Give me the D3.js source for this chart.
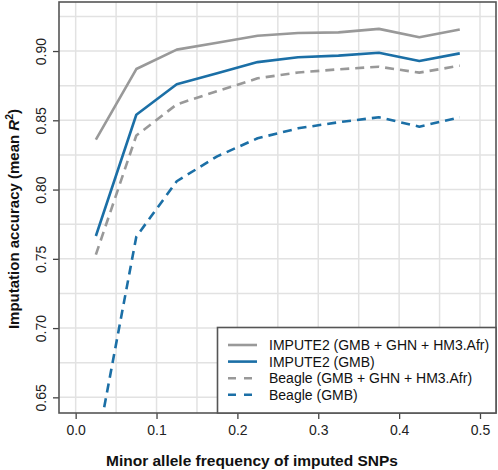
<!DOCTYPE html>
<html><head><meta charset="utf-8">
<script src="https://cdn.jsdelivr.net/npm/d3@7"></script>
<style>body{margin:0;background:#fff}svg{display:block;font-family:"Liberation Sans",Arial,Helvetica,sans-serif}</style>
</head><body>
<svg id="c" width="498" height="470"></svg>
<script>
const maf = [0.025,0.075,0.125,0.175,0.225,0.275,0.325,0.375,0.425,0.475];
const impute2All = [0.836,0.887,0.901,0.906,0.911,0.913,0.9135,0.916,0.910,0.9155];
const impute2GMB = [0.7665,0.854,0.876,0.884,0.892,0.8955,0.8967,0.8988,0.8928,0.8983];
const beagleAll = [0.753,0.839,0.8615,0.871,0.8803,0.8845,0.8868,0.8887,0.8844,0.8894];
const beagleGMB = [0.611,0.766,0.806,0.824,0.837,0.8442,0.8486,0.8522,0.8454,0.8522];
const seriesNames = ["IMPUTE2 (GMB + GHN + HM3.Afr)","IMPUTE2 (GMB)","Beagle (GMB + GHN + HM3.Afr)","Beagle (GMB)"];
const xTicks = [0,0.1,0.2,0.3,0.4,0.5];
const yTicks = [0.65,0.70,0.75,0.80,0.85,0.90];

const GRAY="#999999", BLUE="#1b6fa6";
const series = [
  {name:seriesNames[0], v:impute2All, color:GRAY, dash:null},
  {name:seriesNames[1], v:impute2GMB, color:BLUE, dash:null},
  {name:seriesNames[2], v:beagleAll, color:GRAY, dash:"9,6"},
  {name:seriesNames[3], v:beagleGMB, color:BLUE, dash:"9,6"}
];

const svg = d3.select("#c");
const L=59, R=496, T=2, B=413;
const x = d3.scaleLinear().domain([-0.0206,0.5198]).range([L,R]);
const y = d3.scaleLinear().domain([0.6387,0.9354]).range([B,T]);

svg.append("defs").append("clipPath").attr("id","clip")
  .append("rect").attr("x",L).attr("y",T).attr("width",R-L).attr("height",B-T);

// grid
const g = svg.append("g");
g.selectAll(".vg").data(d3.range(0,0.5001,0.05)).join("line")
  .attr("x1",d=>x(d)).attr("x2",d=>x(d)).attr("y1",T).attr("y2",B)
  .attr("stroke","#e2e2e2").attr("stroke-width",1.5);
g.selectAll(".hg").data(d3.range(0.65,0.93,0.025)).join("line")
  .attr("y1",d=>y(d)).attr("y2",d=>y(d)).attr("x1",L).attr("x2",R)
  .attr("stroke","#e2e2e2").attr("stroke-width",1.5);

// lines
const line = d3.line().x((d,i)=>x(maf[i])).y(d=>y(d));
svg.append("g").attr("clip-path","url(#clip)").selectAll("path").data(series).join("path")
  .attr("d",d=>line(d.v)).attr("fill","none").attr("stroke",d=>d.color)
  .attr("stroke-width",2.6).attr("stroke-dasharray",d=>d.dash).attr("stroke-linejoin","round");

// axes
const xa = svg.append("g").attr("transform",`translate(0,${B})`)
  .call(d3.axisBottom(x).tickValues(xTicks).tickFormat(d3.format(".1f")).tickSize(6).tickPadding(6));
xa.select(".domain").remove();
xa.selectAll("line").attr("stroke","#444").attr("stroke-width",1.3);
xa.selectAll("text").attr("font-size",14).attr("fill","#222").attr("font-family","Liberation Sans, Arial, sans-serif");

const ya = svg.append("g").attr("transform",`translate(${L},0)`)
  .call(d3.axisLeft(y).tickValues(yTicks).tickFormat(d3.format(".2f")).tickSize(6).tickPadding(6));
ya.select(".domain").remove();
ya.selectAll("line").attr("stroke","#444").attr("stroke-width",1.3);
ya.selectAll("text").attr("font-size",14).attr("fill","#222").attr("font-family","Liberation Sans, Arial, sans-serif")
  .attr("text-anchor","middle").attr("dy",null)
  .attr("transform",function(){return "translate(-18,0) rotate(-90)";})
  .attr("x",0).attr("y",5);

// frame
svg.append("rect").attr("x",L).attr("y",T).attr("width",R-L).attr("height",B-T)
  .attr("fill","none").attr("stroke","#555").attr("stroke-width",1.6);

// titles
svg.append("text").attr("x",252).attr("y",465.5).attr("text-anchor","middle")
  .attr("font-size",15.5).attr("font-weight","bold").attr("fill","#111")
  .text("Minor allele frequency of imputed SNPs");
const yt = svg.append("text").attr("transform","translate(18.5,219) rotate(-90)").attr("text-anchor","middle")
  .attr("font-size",15).attr("font-weight","bold").attr("fill","#111");
yt.append("tspan").text("Imputation accuracy (mean ");
yt.append("tspan").attr("font-style","italic").text("R");
yt.append("tspan").attr("font-size",10.5).attr("dy",-6).text("2");
yt.append("tspan").attr("dy",6).text(")");

// legend
const lg = svg.append("g");
lg.append("rect").attr("x",217.5).attr("y",327.5).attr("width",R-217.5).attr("height",B-327.5)
  .attr("fill","#fff").attr("stroke","#555").attr("stroke-width",1.6);
const rows = lg.selectAll(".row").data(series).join("g")
  .attr("transform",(d,i)=>`translate(0,${345+i*16.6})`);
rows.append("line").attr("x1",228).attr("x2",257).attr("stroke",d=>d.color).attr("stroke-width",2.6)
  .attr("stroke-dasharray",d=>d.dash?"8,8":null);
rows.append("text").attr("x",269).attr("y",5).attr("font-size",14).attr("fill","#111").text(d=>d.name);
</script>
</body></html>
